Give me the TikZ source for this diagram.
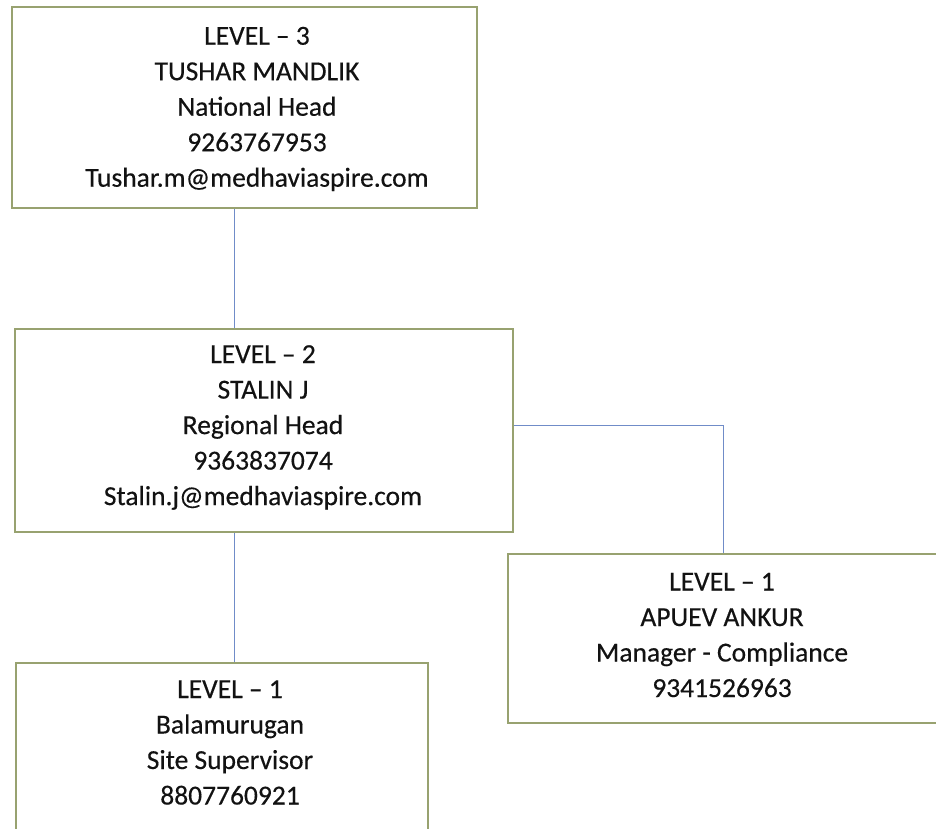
\documentclass[tikz,border=0pt]{standalone}
\usepackage{fontspec}
\setmainfont{Carlito}
\newfontfamily\orgfont[FakeBold=0.35,Ligatures=TeX]{Carlito}
\definecolor{boxline}{RGB}{152,162,112}
\definecolor{connline}{RGB}{112,140,200}
\definecolor{ink}{RGB}{18,18,18}
\tikzset{
  orgbox/.style={draw=boxline, line width=1.8pt, fill=none, anchor=north west, inner sep=0pt},
  orgtxt/.style={align=center, text=ink, inner sep=0pt, font={\orgfont\fontsize{27.5}{35.5}\selectfont}},
  conn/.style={draw=connline, line width=1pt}
}
\begin{document}
\begin{tikzpicture}[x=1pt,y=-1pt]
\useasboundingbox (0,0) rectangle (936,829);
\fill[white] (0,0) rectangle (936,829);
% boxes
\node[orgbox, minimum width=465pt, minimum height=201pt] (b1) at (11,6) {};
\node[orgbox, minimum width=498pt, minimum height=203pt] (b2) at (14,328) {};
\node[orgbox, minimum width=435pt, minimum height=169pt] (b3) at (507,553) {};
\node[orgbox, minimum width=412pt, minimum height=190pt] (b4) at (15,662) {};
% texts
\node[orgtxt] (t1) at (257,109) {LEVEL – 3\\TUSHAR MANDLIK\\National Head\\9263767953\\Tushar.m@medhaviaspire.com};
\node[orgtxt] (t2) at (263,427.5) {LEVEL – 2\\STALIN J\\Regional Head\\9363837074\\Stalin.j@medhaviaspire.com};
\node[orgtxt] (t3) at (722,635) {LEVEL – 1\\APUEV ANKUR\\Manager - Compliance\\9341526963};
\node[orgtxt] (t4) at (230,742.5) {LEVEL – 1\\Balamurugan\\Site Supervisor\\8807760921};
% connectors
\draw[conn] (b1.south -| 234,0) -- (b2.north -| 234,0);
\draw[conn] (b2.east |- 0,425) -| (b3.north -| 723,0);
\draw[conn] (b2.south -| 234,0) -- (b4.north -| 234,0);
\end{tikzpicture}
\end{document}
